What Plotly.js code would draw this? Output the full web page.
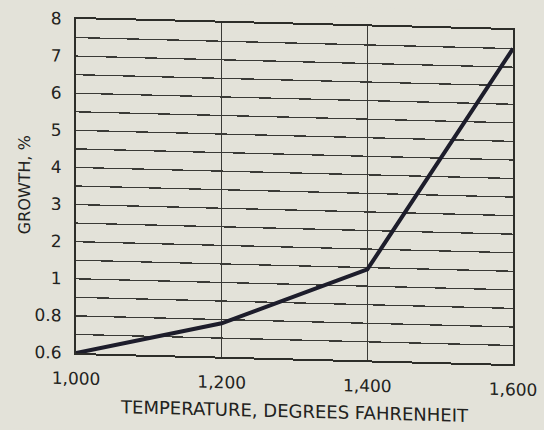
<!DOCTYPE html>
<html>
<head>
<meta charset="utf-8">
<script src="https://cdn.plot.ly/plotly-3.0.1.min.js"></script>
<style>
  html, body { margin: 0; padding: 0; background: #e3e2d9; }
  #chart { width: 544px; height: 430px; transform: skewY(1.45deg); transform-origin: 76px 0; }
</style>
</head>
<body>
<div id="chart"></div>
<script>
// Data
const temperature = [1000, 1200, 1400, 1600];
const growth = [0.6, 0.78, 1.45, 7.5];

// Y axis: labels are equally spaced (not a true scale)
const yTickValues = [0.6, 0.8, 1, 2, 3, 4, 5, 6, 7, 8];
const yTickLabels = ['0.6', '0.8', '1', '2', '3', '4', '5', '6', '7', '8'];
const xTickValues = [1000, 1200, 1400, 1600];
const xTickLabels = ['1,000', '1,200', '1,400', '1,600'];

function toIndex(v) {
  for (let i = 0; i < yTickValues.length - 1; i++) {
    const a = yTickValues[i], b = yTickValues[i + 1];
    if (v >= a && v <= b) return i + (v - a) / (b - a);
  }
  return v < yTickValues[0] ? 0 : yTickValues.length - 1;
}

// gridlines at every label and halfway between labels
const gridVals = [];
const gridText = [];
for (let i = 0; i < yTickValues.length; i++) {
  gridVals.push(i); gridText.push(yTickLabels[i]);
  if (i < yTickValues.length - 1) { gridVals.push(i + 0.5); gridText.push(''); }
}

const trace = {
  x: temperature,
  y: growth.map(toIndex),
  type: 'scatter',
  mode: 'lines',
  line: { color: '#1d1d2b', width: 4 },
  hoverinfo: 'skip'
};

const fontFam = 'DejaVu Sans, sans-serif';
const txtCol = '#222220';
const layout = {
  width: 544, height: 430,
  margin: { l: 76, r: 31, t: 19, b: 77 },
  paper_bgcolor: '#e3e2d9',
  plot_bgcolor: '#e3e2d9',
  showlegend: false,
  xaxis: {
    range: [1000, 1600],
    tickvals: xTickValues, ticktext: xTickLabels,
    showgrid: true, gridcolor: '#3a3a36', gridwidth: 1.3,
    showline: true, linecolor: '#2e2e2a', linewidth: 2, mirror: true,
    ticks: '', zeroline: false,
    tickfont: { family: fontFam, size: 17, color: txtCol },
    ticklabelstandoff: 9,
    title: { text: 'TEMPERATURE, DEGREES FAHRENHEIT', font: { family: fontFam, size: 18, color: txtCol }, standoff: 12 }
  },
  yaxis: {
    range: [0, 9],
    tickvals: gridVals, ticktext: gridText,
    showgrid: true, gridcolor: '#3a3a36', gridwidth: 1.3,
    showline: true, linecolor: '#2e2e2a', linewidth: 2, mirror: true,
    ticks: '', zeroline: false,
    tickfont: { family: fontFam, size: 17, color: txtCol },
    ticklabelstandoff: 9,
    title: { text: 'GROWTH, %', font: { family: fontFam, size: 16, color: txtCol }, standoff: 0 }
  }
};

Plotly.newPlot('chart', [trace], layout, { displayModeBar: false, staticPlot: true });
</script>
</body>
</html>
